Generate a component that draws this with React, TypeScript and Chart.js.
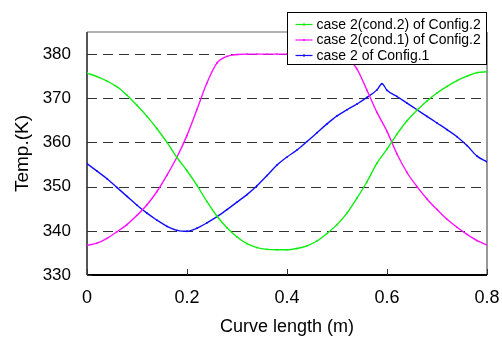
import { useEffect, useRef } from "react";
import { Chart, registerables } from "chart.js";

Chart.register(...registerables);

const xValues = [
  0, 0.02, 0.04, 0.06, 0.08, 0.1, 0.12, 0.14, 0.16, 0.18, 0.2, 0.22, 0.24, 0.26, 0.28, 0.3, 0.32, 0.34,
  0.36, 0.38, 0.4, 0.42, 0.44, 0.46, 0.48, 0.5, 0.52, 0.54, 0.56, 0.58, 0.6, 0.62, 0.64, 0.66, 0.68,
  0.7, 0.72, 0.74, 0.76, 0.78, 0.8,
];

const greenValues = [
  375.7, 374.9, 373.9, 372.6, 370.7, 368.4, 365.9, 363.1, 360.0, 356.6, 353.6, 350.3, 346.6, 343.3,
  340.7, 338.6, 337.1, 336.2, 335.8, 335.7, 335.7, 336.0, 336.6, 337.7, 339.4, 341.4, 344.0, 347.4,
  351.1, 355.3, 358.5, 361.9, 364.9, 367.3, 369.4, 371.2, 372.7, 374.0, 375.0, 375.8, 376.0,
];

const magentaValues = [
  336.7, 337.2, 338.3, 339.8, 341.4, 343.5, 345.9, 348.9, 352.6, 356.7, 361.6, 367.5, 373.5, 378.0,
  379.5, 379.9, 380, 380, 380, 380, 380, 380, 380, 380, 380, 379.8, 379.2, 376.6, 371.8, 366.8, 362.5,
  357.4, 353.2, 350.0, 347.2, 344.8, 342.6, 340.8, 339.2, 337.8, 336.8,
];

const blueX = [
  0, 0.02, 0.04, 0.06, 0.08, 0.1, 0.12, 0.14, 0.16, 0.18, 0.2, 0.22, 0.24, 0.26, 0.28, 0.3, 0.32, 0.34,
  0.36, 0.38, 0.4, 0.42, 0.44, 0.46, 0.48, 0.5, 0.52, 0.54, 0.56, 0.58, 0.59, 0.6, 0.62, 0.64, 0.66,
  0.68, 0.7, 0.72, 0.74, 0.76, 0.78, 0.8,
];

const blueValues = [
  355.2, 353.5, 351.8, 349.8, 347.8, 345.8, 344.0, 342.4, 341.0, 340.1, 339.9, 340.6, 341.8, 343.2,
  344.8, 346.5, 348.2, 350.2, 352.5, 354.9, 356.7, 358.3, 360.2, 362.2, 364.2, 366.0, 367.4, 368.7,
  370.2, 371.9, 373.3, 371.8, 370.4, 368.9, 367.4, 365.9, 364.4, 362.9, 361.3, 359.3, 356.9, 355.6,
];

const seriesLabels = [
  "case 2(cond.2) of Config.2",
  "case 2(cond.1) of Config.2",
  "case 2 of Config.1",
];
const seriesColors = ["#10ee10", "#ff10ff", "#1010ff"];

const xTicks = [0, 0.2, 0.4, 0.6, 0.8];
const yTicks = [330, 340, 350, 360, 370, 380];
const gridValues = [340, 350, 360, 370, 380];

const FONT = '"Liberation Sans", Arial, Helvetica, sans-serif';

const framePlugin = {
  id: "frame",
  beforeDatasetsDraw(chart: any) {
    const { ctx, chartArea } = chart;
    const { left, right, top, bottom } = chartArea;
    const ys = chart.scales.y;
    const xs = chart.scales.x;
    ctx.save();
    ctx.strokeStyle = "#333";
    ctx.lineWidth = 1;
    ctx.setLineDash([10, 6]);
    gridValues.forEach((v) => {
      const y = Math.round(ys.getPixelForValue(v)) + 0.5;
      ctx.beginPath();
      ctx.moveTo(left, y);
      ctx.lineTo(right, y);
      ctx.stroke();
    });
    ctx.setLineDash([]);
    ctx.strokeStyle = "#b4b4b4";
    ctx.lineWidth = 2;
    ctx.beginPath();
    ctx.moveTo(left, top);
    ctx.lineTo(right, top);
    ctx.stroke();
    ctx.strokeStyle = "#777";
    ctx.lineWidth = 1.5;
    ctx.beginPath();
    ctx.moveTo(right, top);
    ctx.lineTo(right, bottom);
    ctx.stroke();
    ctx.strokeStyle = "#555";
    ctx.lineWidth = 2;
    ctx.beginPath();
    ctx.moveTo(left, top);
    ctx.lineTo(left, bottom);
    ctx.stroke();
    ctx.strokeStyle = "#000";
    ctx.lineWidth = 2;
    ctx.beginPath();
    ctx.moveTo(left, bottom);
    ctx.lineTo(right, bottom);
    ctx.stroke();
    ctx.lineWidth = 1;
    ctx.strokeStyle = "#333";
    xTicks.forEach((v) => {
      const x = Math.round(xs.getPixelForValue(v)) + 0.5;
      ctx.beginPath();
      ctx.moveTo(x, bottom);
      ctx.lineTo(x, bottom - 6);
      ctx.stroke();
    });
    yTicks.forEach((v) => {
      const y = Math.round(ys.getPixelForValue(v)) + 0.5;
      ctx.beginPath();
      ctx.moveTo(left, y);
      ctx.lineTo(left + 5, y);
      ctx.stroke();
    });
    ctx.restore();
  },
  afterDatasetsDraw(chart: any) {
    const { ctx, chartArea } = chart;
    const boxLeft = Math.round(chartArea.right) - 199.5;
    const boxTop = 12.5;
    const boxW = 199;
    const boxH = 52;
    ctx.save();
    ctx.fillStyle = "#fff";
    ctx.fillRect(boxLeft, boxTop, boxW, boxH);
    ctx.strokeStyle = "#000";
    ctx.lineWidth = 1;
    ctx.strokeRect(boxLeft, boxTop, boxW, boxH);
    ctx.font = `14px ${FONT}`;
    ctx.textBaseline = "middle";
    ctx.textAlign = "left";
    seriesLabels.forEach((label, i) => {
      const y = boxTop + 12 + i * 15.5;
      ctx.strokeStyle = seriesColors[i];
      ctx.lineWidth = 1.2;
      ctx.beginPath();
      ctx.moveTo(boxLeft + 8, y);
      ctx.lineTo(boxLeft + 25, y);
      ctx.stroke();
      ctx.fillStyle = seriesColors[i];
      ctx.fillRect(boxLeft + 15.5, y - 1, 2, 2);
      ctx.fillStyle = "#000";
      ctx.fillText(label, boxLeft + 29, y + 0.5);
    });
    ctx.restore();
  },
};

export default function App() {
  const canvasRef = useRef<HTMLCanvasElement | null>(null);

  useEffect(() => {
    if (!canvasRef.current) return;
    const makeData = (xsArr: number[], ysArr: number[]) => xsArr.map((x, i) => ({ x, y: ysArr[i] }));
    const datasets = [
      makeData(xValues, greenValues),
      makeData(xValues, magentaValues),
      makeData(blueX, blueValues),
    ].map((data, i) => ({
      label: seriesLabels[i],
      data,
      borderColor: seriesColors[i],
      backgroundColor: seriesColors[i],
      borderWidth: 1.4,
      pointRadius: 0.9,
      pointBorderWidth: 0,
      pointBackgroundColor: seriesColors[i],
      cubicInterpolationMode: "monotone" as const,
      fill: false,
    }));

    const chart = new Chart(canvasRef.current, {
      type: "line",
      data: { datasets },
      plugins: [framePlugin],
      options: {
        responsive: false,
        animation: false,
        events: [],
        layout: { padding: { left: 0, right: 15, top: 32, bottom: 0 } },
        plugins: { legend: { display: false }, tooltip: { enabled: false }, title: { display: false } },
        scales: {
          x: {
            type: "linear",
            min: 0,
            max: 0.8,
            afterBuildTicks: (s: any) => {
              s.ticks = xTicks.map((value) => ({ value }));
            },
            afterFit: (s: any) => {
              s.height = 72;
              s.paddingLeft = 0;
              s.paddingRight = 0;
            },
            grid: { display: false, drawTicks: false },
            border: { display: false },
            ticks: {
              color: "#000",
              padding: 12,
              font: { family: FONT, size: 18 },
              maxRotation: 0,
              autoSkip: false,
              callback: (v: any) => String(v),
            },
            title: {
              display: true,
              text: "Curve length (m)",
              color: "#000",
              font: { family: FONT, size: 18 },
              padding: { top: 0, bottom: 9 },
            },
          },
          y: {
            type: "linear",
            min: 330,
            max: 385,
            afterBuildTicks: (s: any) => {
              s.ticks = yTicks.map((value) => ({ value }));
            },
            afterFit: (s: any) => {
              s.width = 87;
              s.paddingTop = 0;
              s.paddingBottom = 0;
            },
            grid: { display: false, drawTicks: false },
            border: { display: false },
            ticks: {
              color: "#000",
              padding: 16,
              font: { family: FONT, size: 17 },
              autoSkip: false,
              callback: (v: any) => String(v),
            },
            title: {
              display: true,
              text: "Temp.(K)",
              color: "#000",
              font: { family: FONT, size: 19 },
              padding: { top: 11, bottom: 0 },
            },
          },
        },
      },
    });
    return () => chart.destroy();
  }, []);

  return (
    <div style={{ position: "fixed", left: 0, top: 0, width: 502, height: 347, background: "#fff" }}>
      <canvas ref={canvasRef} width={502} height={347} style={{ display: "block" }} />
    </div>
  );
}
